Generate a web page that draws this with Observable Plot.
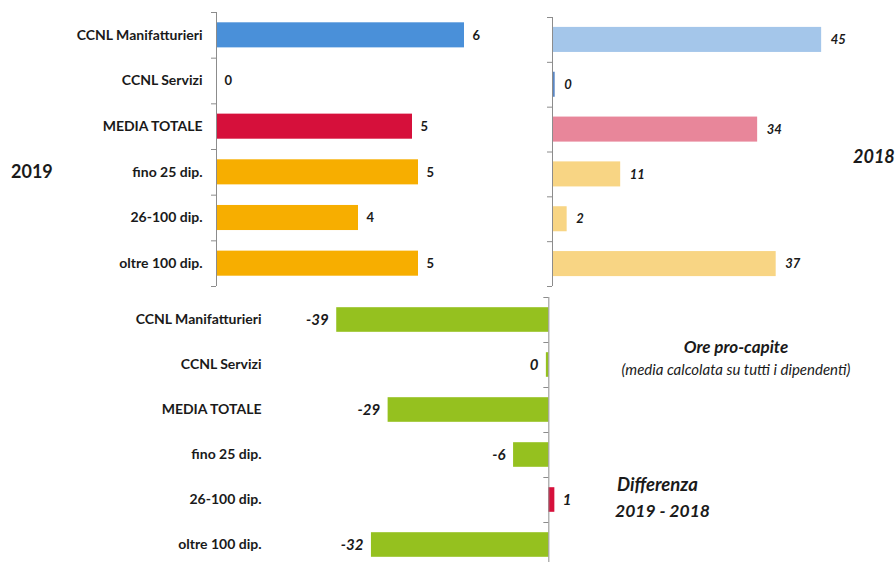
<!DOCTYPE html>
<html><head><meta charset="utf-8">
<script src="https://cdn.jsdelivr.net/npm/d3@7"></script>
<script src="https://cdn.jsdelivr.net/npm/@observablehq/plot@0.6"></script>
<style>
body{margin:0;background:#fff;}
#wrap{position:relative;width:896px;height:562px;overflow:hidden;font-family:Lato, sans-serif;color:#1a1a1a;}
.panel{position:absolute;}
.lbl{position:absolute;white-space:nowrap;line-height:1;}
</style></head><body>
<div id="wrap">
 <div id="p2019" class="panel" style="left:0;top:0"></div>
 <div id="p2018" class="panel" style="left:540px;top:0"></div>
 <div id="pdiff" class="panel" style="left:0;top:290px"></div>
 <div class="lbl" style="left:11px;top:162px;font-size:18px;font-weight:700">2019</div>
 <div class="lbl" style="left:853px;top:147px;font-size:18px;font-weight:700;font-style:italic">2018</div>
 <div class="lbl" style="left:596px;width:280px;text-align:center;top:338px;font-size:17px;font-weight:700;font-style:italic">Ore pro-capite</div>
 <div class="lbl" style="left:586px;width:300px;text-align:center;top:362px;font-size:15px;font-style:italic">(media calcolata su tutti i dipendenti)</div>
 <div class="lbl" style="left:617px;top:475px;font-size:18.5px;font-weight:700;font-style:italic">Differenza</div>
 <div class="lbl" style="left:615px;top:502px;font-size:17.5px;font-weight:700;font-style:italic">2019 - 2018</div>
</div>
<script>
const categories = ["CCNL Manifatturieri","CCNL Servizi","MEDIA TOTALE","fino 25 dip.","26-100 dip.","oltre 100 dip."];
const values2019 = [6.2, 0, 4.9, 5.05, 3.55, 5.05];
const values2018 = [45, 0.45, 34.3, 11.4, 2.45, 37.4];
const valuesDiff = [-38.8, -0.45, -29.4, -6.45, 1.1, -32.45];
const colors2019 = ["#4a90d9","#4a90d9","#d6103b","#f7ae00","#f7ae00","#f7ae00"];
const colors2018 = ["#a4c6ea","#5a87c5","#e8869a","#f8d584","#f8d584","#f8d584"];
const colorNeg = "#95c11f", colorPos = "#d6103b";

const fmt = v => `${Math.round(v)}`;
const axisColor = "#8c8c8c";
const d2019 = categories.map((c,i)=>({c, i, v: values2019[i], col: colors2019[i]}));
const d2018 = categories.map((c,i)=>({c, i, v: values2018[i], col: colors2018[i]}));
const dDiff = categories.map((c,i)=>({c, i, v: valuesDiff[i], col: valuesDiff[i] > 0 ? colorPos : colorNeg}));
const bounds = d3.range(0, categories.length + 1);
const centers = categories.map((d,i)=>i+0.5);

const p2019 = Plot.plot({
  width: 490, height: 290, marginLeft: 216, marginRight: 10, marginTop: 12, marginBottom: 4,
  x: {domain: [0, 6.6], axis: null},
  y: {domain: [0, 6], reverse: true, axis: null},
  color: {type: "identity"},
  style: {fontFamily: "Lato, sans-serif", fontSize: "14px", fontWeight: 700, color: "#1a1a1a", background: "transparent", overflow: "visible"},
  marks: [
    Plot.rectX(d2019, {x1: 0, x2: "v", y1: "i", y2: d=>d.i+1, insetTop: 10.3, insetBottom: 10.3, fill: "col"}),
    Plot.ruleX([0], {stroke: axisColor}),
    Plot.axisY({ticks: bounds, tickSize: 5, tickFormat: () => "", stroke: axisColor, label: null}),
    Plot.axisY({ticks: centers, tickSize: 0, tickPadding: 14, tickFormat: t => categories[Math.floor(t)], label: null}),
    Plot.text(d2019, {x: "v", y: d=>d.i+0.5, text: d=>fmt(d.v), dx: 8, textAnchor: "start", fontSize: 13})
  ]
});
document.getElementById("p2019").appendChild(p2019);

const p2018 = Plot.plot({
  width: 356, height: 290, marginLeft: 12, marginRight: 30, marginTop: 17, marginBottom: 4,
  x: {domain: [0, 52.5], axis: null},
  y: {domain: [0, 6], reverse: true, axis: null},
  color: {type: "identity"},
  style: {fontFamily: "Lato, sans-serif", fontSize: "13px", fontWeight: 700, color: "#1a1a1a", background: "transparent", overflow: "visible"},
  marks: [
    Plot.rectX(d2018, {x1: 0, x2: "v", y1: "i", y2: d=>d.i+1, insetTop: 9.9, insetBottom: 9.9, fill: "col"}),
    Plot.ruleX([0], {stroke: axisColor}),
    Plot.axisY({ticks: bounds, tickSize: 5, tickFormat: () => "", stroke: axisColor, label: null}),
    Plot.text(d2018, {x: "v", y: d=>d.i+0.5, text: d=>fmt(d.v), dx: 9, textAnchor: "start", fontStyle: "italic", fontSize: 13})
  ]
});
document.getElementById("p2018").appendChild(p2018);

const pDiff = Plot.plot({
  width: 640, height: 277, marginLeft: 275, marginRight: 37, marginTop: 7, marginBottom: 0,
  x: {domain: [-50, 10], axis: null},
  y: {domain: [0, 6], reverse: true, axis: null},
  color: {type: "identity"},
  style: {fontFamily: "Lato, sans-serif", fontSize: "14px", fontWeight: 700, color: "#1a1a1a", background: "transparent", overflow: "visible"},
  marks: [
    Plot.rectX(dDiff, {x1: 0, x2: "v", y1: "i", y2: d=>d.i+1, insetTop: 10.2, insetBottom: 10.2, fill: "col"}),
    Plot.ruleX([0], {stroke: axisColor}),
    Plot.ruleY(bounds, {y: d=>d, x1: 0, x2: 0, insetLeft: -5, stroke: axisColor}),
    Plot.axisY({ticks: centers, tickSize: 0, tickPadding: 14, tickFormat: t => categories[Math.floor(t)], label: null}),
    Plot.text(dDiff.filter(d=>d.v <= 0), {x: "v", y: d=>d.i+0.5, text: d=>fmt(d.v), dx: -8, textAnchor: "end", fontStyle: "italic", fontSize: 15}),
    Plot.text(dDiff.filter(d=>d.v > 0), {x: "v", y: d=>d.i+0.5, text: d=>fmt(d.v), dx: 8, textAnchor: "start", fontStyle: "italic", fontSize: 15})
  ]
});
document.getElementById("pdiff").appendChild(pDiff);
</script>
</body></html>
